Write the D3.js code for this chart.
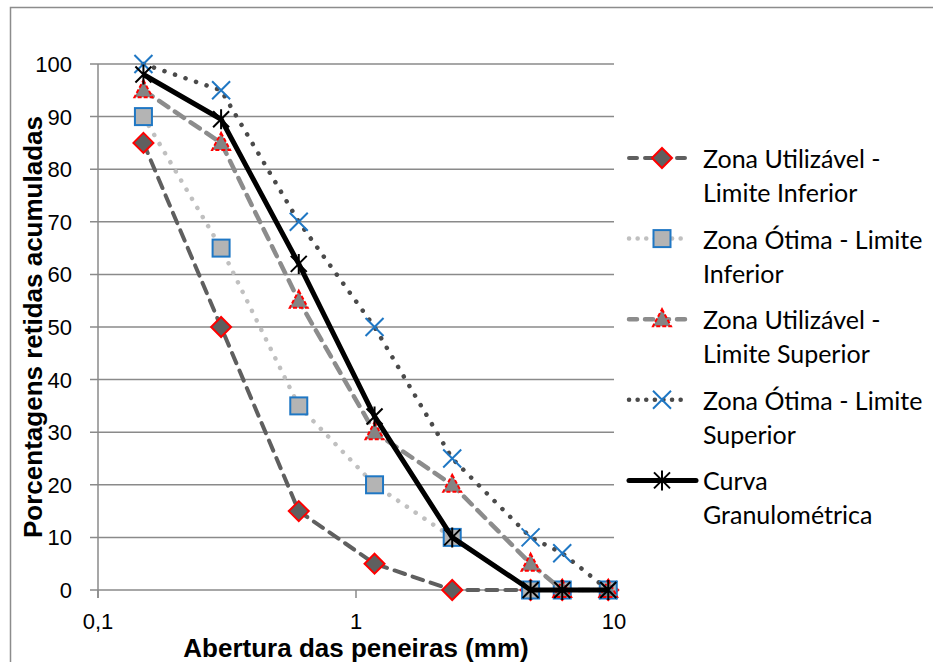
<!DOCTYPE html>
<html>
<head>
<meta charset="UTF-8">
<title>Curva granulométrica</title>
<style>
  body { margin: 0; background: #fff; }
  text { font-family: "Liberation Sans", Arial, sans-serif; }
  .leg text { font-family: Lato, "Noto Sans", sans-serif; }
</style>
</head>
<body>
<script src="https://cdn.jsdelivr.net/npm/d3@7"></script>
<script>
// aberturas das peneiras (mm)
var aberturas = [0.15, 0.3, 0.6, 1.18, 2.36, 4.75, 6.3, 9.5];

// porcentagens retidas acumuladas
var utilInferior = [85, 50, 15, 5, 0, 0, 0, 0];
var otimaInferior = [90, 65, 35, 20, 10, 0, 0, 0];
var utilSuperior = [95, 85, 55, 30, 20, 5, 0, 0];
var otimaSuperior = [100, 95, 70, 50, 25, 10, 7, 0];
var curva = [98, 89.5, 62, 33, 10, 0, 0, 0];

var legendas = [
  ["Zona Utilizável -", "Limite Inferior"],
  ["Zona Ótima - Limite", "Inferior"],
  ["Zona Utilizável -", "Limite Superior"],
  ["Zona Ótima - Limite", "Superior"],
  ["Curva", "Granulométrica"]
];

var yTicks = [0, 10, 20, 30, 40, 50, 60, 70, 80, 90, 100];
var xTicks = [0.1, 1, 10];
var xTickLabels = ["0,1", "1", "10"];

var width = 933, height = 662;
var svg = d3.select("body").append("svg")
  .attr("width", width)
  .attr("height", height);

// moldura do gráfico
svg.append("rect")
  .attr("x", 10.5).attr("y", 7.5)
  .attr("width", 940).attr("height", 680)
  .attr("fill", "none")
  .attr("stroke", "#8c8c8c")
  .attr("stroke-width", 1.5);

var x = d3.scaleLog().domain([0.1, 10]).range([98, 614]);
var y = d3.scaleLinear().domain([0, 100]).range([590, 64]);

var gridColor = "#8a8a8a";

// linhas de grade horizontais (com traço à esquerda)
svg.append("g").selectAll("line").data(yTicks).enter().append("line")
  .attr("x1", x(0.1) - 8).attr("x2", x(10))
  .attr("y1", function(d){ return y(d); })
  .attr("y2", function(d){ return y(d); })
  .attr("stroke", gridColor).attr("stroke-width", 1.5);

// eixo vertical
svg.append("line")
  .attr("x1", x(0.1)).attr("x2", x(0.1))
  .attr("y1", y(100)).attr("y2", y(0) + 8)
  .attr("stroke", gridColor).attr("stroke-width", 1.5);

// marcas do eixo x
svg.append("g").selectAll("line").data(xTicks).enter().append("line")
  .attr("x1", function(d){ return x(d); })
  .attr("x2", function(d){ return x(d); })
  .attr("y1", y(0)).attr("y2", y(0) + 8)
  .attr("stroke", gridColor).attr("stroke-width", 1.5);

// rótulos do eixo y
svg.append("g").selectAll("text").data(yTicks).enter().append("text")
  .attr("x", 72)
  .attr("y", function(d){ return y(d) + 8; })
  .attr("text-anchor", "end")
  .attr("font-size", 22)
  .text(function(d){ return d; });

// rótulos do eixo x
svg.append("g").selectAll("text").data(xTicks).enter().append("text")
  .attr("x", function(d){ return x(d); })
  .attr("y", 629)
  .attr("text-anchor", "middle")
  .attr("font-size", 22)
  .text(function(d, i){ return xTickLabels[i]; });

// títulos
svg.append("text")
  .attr("x", 356).attr("y", 657)
  .attr("text-anchor", "middle")
  .attr("font-size", 26).attr("font-weight", "bold")
  .text("Abertura das peneiras (mm)");

svg.append("text")
  .attr("transform", "translate(42,327) rotate(-90)")
  .attr("text-anchor", "middle")
  .attr("font-size", 26).attr("font-weight", "bold")
  .text("Porcentagens retidas acumuladas");

// estilos das séries
var series = [
  { vals: utilInferior, stroke: "#5f5f5f", w: 4, dash: "11 8", cap: "round", marker: "diamond" },
  { vals: otimaInferior, stroke: "#c0c0c0", w: 4.5, dash: "0.1 10.5", cap: "round", marker: "square" },
  { vals: utilSuperior, stroke: "#8c8c8c", w: 4.5, dash: "11 8", cap: "round", marker: "triangle" },
  { vals: otimaSuperior, stroke: "#4a4a4a", w: 4.5, dash: "0.1 11", cap: "round", marker: "cross" },
  { vals: curva, stroke: "#000", w: 5, dash: null, cap: "butt", marker: "star" }
];

var line = d3.line()
  .x(function(d, i){ return x(aberturas[i]); })
  .y(function(d){ return y(d); });

function drawMarker(g, type, cx, cy) {
  if (type == "diamond") {
    g.append("path")
      .attr("d", "M" + cx + "," + (cy - 10) + "L" + (cx + 10) + "," + cy + "L" + cx + "," + (cy + 10) + "L" + (cx - 10) + "," + cy + "Z")
      .attr("fill", "#5f5f5f").attr("stroke", "#ff0000").attr("stroke-width", 2);
  } else if (type == "square") {
    g.append("rect")
      .attr("x", cx - 8.5).attr("y", cy - 8.5)
      .attr("width", 17).attr("height", 17)
      .attr("fill", "#b4b4b4").attr("stroke", "#1f77c4").attr("stroke-width", 2);
  } else if (type == "triangle") {
    g.append("path")
      .attr("d", "M" + cx + "," + (cy - 10) + "L" + (cx + 9) + "," + (cy + 7) + "L" + (cx - 9) + "," + (cy + 7) + "Z")
      .attr("fill", "#848484").attr("stroke", "#ff0000").attr("stroke-width", 2)
      .attr("stroke-dasharray", "4 2");
  } else if (type == "cross") {
    g.append("path")
      .attr("d", "M" + (cx - 9) + "," + (cy - 9) + "L" + (cx + 9) + "," + (cy + 9) + "M" + (cx + 9) + "," + (cy - 9) + "L" + (cx - 9) + "," + (cy + 9))
      .attr("fill", "none").attr("stroke", "#1f77c4").attr("stroke-width", 2);
  } else {
    g.append("path")
      .attr("d", "M" + (cx - 8) + "," + (cy - 8) + "L" + (cx + 8) + "," + (cy + 8) + "M" + (cx + 8) + "," + (cy - 8) + "L" + (cx - 8) + "," + (cy + 8) + "M" + cx + "," + (cy - 10) + "L" + cx + "," + (cy + 10))
      .attr("fill", "none").attr("stroke", "#000").attr("stroke-width", 2);
  }
}

series.forEach(function(s){
  var g = svg.append("g");
  g.append("path")
    .attr("d", line(s.vals))
    .attr("fill", "none")
    .attr("stroke", s.stroke)
    .attr("stroke-width", s.w)
    .attr("stroke-linecap", s.cap)
    .attr("stroke-linejoin", "round")
    .attr("stroke-dasharray", s.dash);
  s.vals.forEach(function(v, i){
    drawMarker(g, s.marker, x(aberturas[i]), y(v));
  });
});

// legenda
var leg = svg.append("g").attr("class", "leg");
series.forEach(function(s, i){
  var cy = 158 + i * 80.6;
  var g = leg.append("g");
  g.append("line")
    .attr("x1", 629).attr("x2", s.dash ? 689 : 696)
    .attr("y1", cy).attr("y2", cy)
    .attr("stroke", s.stroke)
    .attr("stroke-width", s.w)
    .attr("stroke-linecap", "round")
    .attr("stroke-dasharray", s.dash ? (s.dash == "11 8" ? "8 8" : "0.1 8.5") : null);
  drawMarker(g, s.marker, 662, cy);
  legendas[i].forEach(function(t, j){
    g.append("text")
      .attr("x", 703)
      .attr("y", cy + 10 + j * 34)
      .attr("font-size", 25)
      .attr("fill", "#000")
      .text(t);
  });
});
</script>
</body>
</html>
